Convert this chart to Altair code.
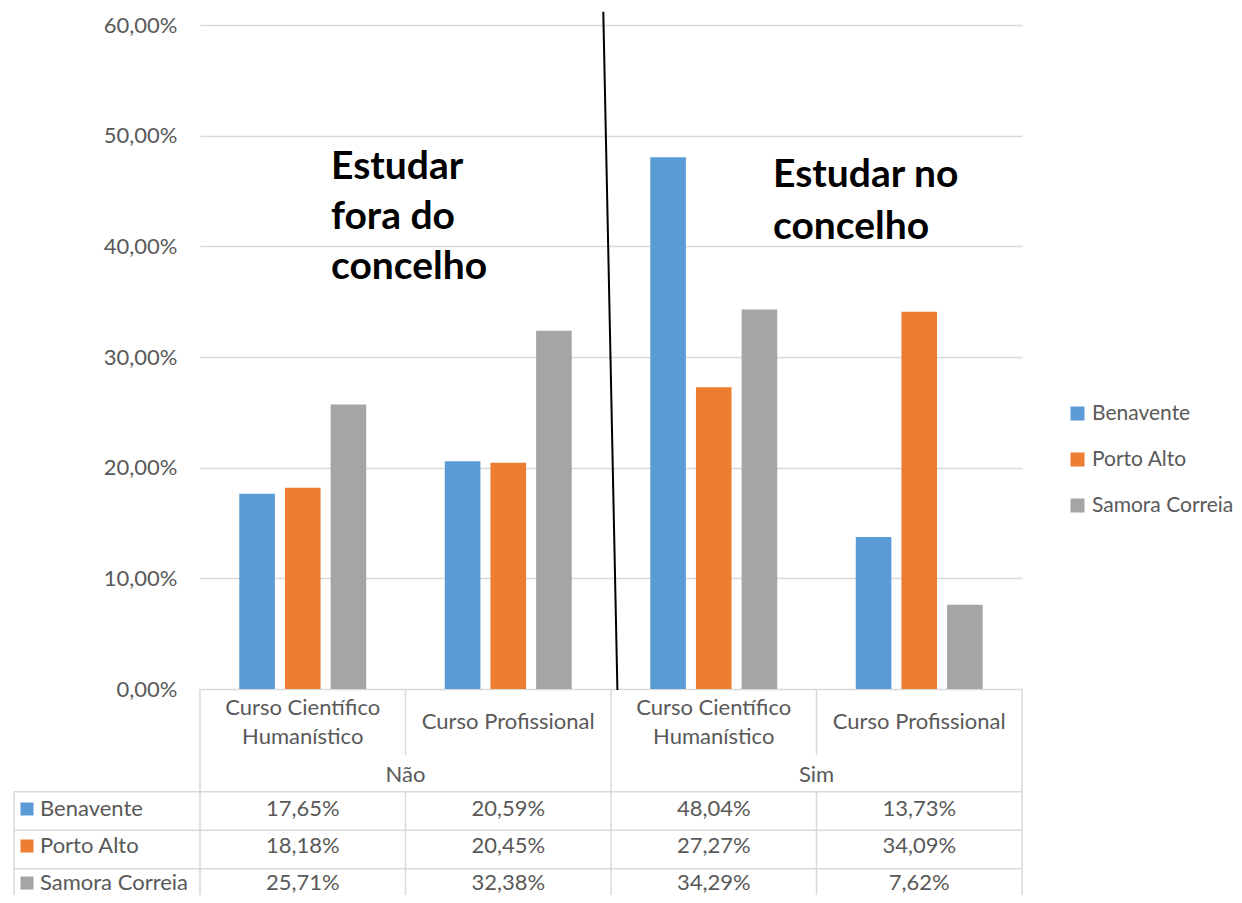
import altair as alt
import pandas as pd

# ---------------- data ----------------
cat_keys = ["Não · CCH", "Não · CP", "Sim · CCH", "Sim · CP"]
course_labels = ["Curso Científico\nHumanístico", "Curso Profissional",
                 "Curso Científico\nHumanístico", "Curso Profissional"]
group_labels = ["Não", "Sim"]
group_centre_keys = ["Não · CP", "Sim · CP"]   # group label sits on the boundary before these
series = ["Benavente", "Porto Alto", "Samora Correia"]
benavente = [17.65, 20.59, 48.04, 13.73]
porto_alto = [18.18, 20.45, 27.27, 34.09]
samora_correia = [25.71, 32.38, 34.29, 7.62]
colors = ["#5B9BD5", "#ED7D31", "#A5A5A5"]
y_ticks = [0, 0.1, 0.2, 0.3, 0.4, 0.5, 0.6]
annot_left = "Estudar\nfora do\nconcelho"
annot_right = "Estudar no\nconcelho"

values_by_series = [benavente, porto_alto, samora_correia]
rows = []
for s, vals in zip(series, values_by_series):
    for k, v in zip(cat_keys, vals):
        rows.append({"cat": k, "series": s, "value": v / 100.0,
                     "label": f"{v:.2f}%".replace(".", ",")})
df = pd.DataFrame(rows)
cat_df = pd.DataFrame({"cat": cat_keys, "course": course_labels})
cat_two = cat_df[cat_df["course"].str.contains("\n")]
cat_one = cat_df[~cat_df["course"].str.contains("\n")]
grp_df = pd.DataFrame({"cat": group_centre_keys, "group": group_labels})
ser_df = pd.DataFrame({"series": series})

# ---------------- layout constants ----------------
W, H = 822, 664
PAD_L, PAD_T, PAD_R, PAD_B = 192, 17, 212, 206
BOTTOM = H + PAD_B
FONT = "Lato"
TXT = "#595959"
GRID = "#D9D9D9"
FS = 22

x_scale = alt.Scale(domain=cat_keys, paddingInner=0, paddingOuter=0)
xoff_scale = alt.Scale(domain=series, paddingInner=0.22, paddingOuter=0.86)
row_scale = alt.Scale(type="point", domain=series, range=[784, 858], padding=0)
line_scale = alt.Scale(type="point", domain=series, range=[766.75, 843.75], padding=0)
color_scale = alt.Scale(domain=series, range=colors)

X = lambda **kw: alt.X("cat:N", scale=x_scale, sort=cat_keys, axis=None, **kw)
Yrow = lambda: alt.Y("series:N", scale=row_scale, sort=series, axis=None)
Yline = lambda: alt.Y("series:N", scale=line_scale, sort=series, axis=None)

bars = alt.Chart(df).mark_bar().encode(
    x=X(),
    xOffset=alt.XOffset("series:N", scale=xoff_scale, sort=series),
    y=alt.Y("value:Q", scale=alt.Scale(domain=[0, 0.6], nice=False, zero=True),
            axis=alt.Axis(values=y_ticks, title=None, domain=False, ticks=False,
                          labelExpr="replace(format(datum.value, '.2%'), '.', ',')",
                          labelFont=FONT, labelFontSize=FS, labelColor=TXT,
                          labelPadding=23, grid=True, gridColor=GRID, gridWidth=1.5)),
    color=alt.Color("series:N", scale=color_scale, sort=series,
                    legend=alt.Legend(orient="none", legendX=867, legendY=378,
                                      title=None, symbolType="square", symbolSize=196,
                                      symbolStrokeWidth=0, labelFont=FONT,
                                      labelFontSize=21, labelColor=TXT, labelOffset=4,
                                      rowPadding=24, padding=0, labelLimit=300)),
)

# category labels below the plot
cat_text2 = alt.Chart(cat_two).mark_text(
    lineBreak="\n", lineHeight=29, font=FONT, fontSize=FS, color=TXT, baseline="middle"
).encode(x=X(), y=alt.value(683), text="course:N")
cat_text1 = alt.Chart(cat_one).mark_text(
    font=FONT, fontSize=FS, color=TXT, baseline="middle"
).encode(x=X(), y=alt.value(697), text="course:N")

grp_text = alt.Chart(grp_df).mark_text(
    font=FONT, fontSize=FS, color=TXT, baseline="middle"
).encode(x=X(bandPosition=0), y=alt.value(750), text="group:N")

# data table
table_vals = alt.Chart(df).mark_text(
    font=FONT, fontSize=FS, color=TXT, baseline="middle"
).encode(x=X(), y=Yrow(), text="label:N")

table_names = alt.Chart(ser_df).mark_text(
    font=FONT, fontSize=FS, color=TXT, baseline="middle", align="left"
).encode(x=alt.value(-160), y=Yrow(), text="series:N")

table_keys = alt.Chart(ser_df).mark_square(size=169, opacity=1).encode(
    x=alt.value(-173), y=Yrow(),
    fill=alt.Fill("series:N", scale=color_scale, sort=series, legend=None),
)

# table grid lines
full_df = pd.DataFrame({"cat": [cat_keys[0], cat_keys[2]]})
part_df = pd.DataFrame({"cat": [cat_keys[1], cat_keys[3]]})
rule_style = dict(color=GRID, strokeWidth=1.5)

v_full = alt.Chart(full_df).mark_rule(**rule_style).encode(
    x=X(bandPosition=0), y=alt.value(H), y2=alt.value(BOTTOM))
v_end = alt.Chart(full_df.head(1)).mark_rule(**rule_style).encode(
    x=alt.value(W), y=alt.value(H), y2=alt.value(BOTTOM))
v_part_top = alt.Chart(part_df).mark_rule(**rule_style).encode(
    x=X(bandPosition=0), y=alt.value(H), y2=alt.value(730))
v_part_bot = alt.Chart(part_df).mark_rule(**rule_style).encode(
    x=X(bandPosition=0), y=alt.value(766.5), y2=alt.value(BOTTOM))
v_left = alt.Chart(full_df.head(1)).mark_rule(**rule_style).encode(
    x=alt.value(-186), y=alt.value(766.5), y2=alt.value(BOTTOM))
h_rows = alt.Chart(ser_df).mark_rule(**rule_style).encode(
    x=alt.value(-186), x2=alt.value(W), y=Yline())

# annotations
ann1 = alt.Chart(pd.DataFrame({"t": [annot_left]})).mark_text(
    lineBreak="\n", lineHeight=50, font=FONT, fontSize=39, fontWeight="bold",
    color="black", align="left", baseline="alphabetic"
).encode(x=alt.value(131), y=alt.value(154), text="t:N")
ann2 = alt.Chart(pd.DataFrame({"t": [annot_right]})).mark_text(
    lineBreak="\n", lineHeight=52, font=FONT, fontSize=39, fontWeight="bold",
    color="black", align="left", baseline="alphabetic"
).encode(x=alt.value(573), y=alt.value(161.7), text="t:N")

divider = alt.Chart(pd.DataFrame({"t": [0]})).mark_rule(color="black", strokeWidth=2).encode(
    x=alt.value(403.3), y=alt.value(-13.3), x2=alt.value(417.4), y2=alt.value(665))

chart = alt.layer(
    bars, v_full, v_end, v_part_top, v_part_bot, v_left, h_rows,
    cat_text2, cat_text1, grp_text, table_vals, table_names, table_keys,
    ann1, ann2, divider,
).resolve_scale(y="independent").properties(
    width=W, height=H,
    autosize=alt.AutoSizeParams(type="none"),
    padding={"left": PAD_L, "top": PAD_T, "right": PAD_R, "bottom": PAD_B},
).configure_view(stroke=None)

chart.save("out.html", embed_options={"renderer": "svg", "actions": False})
